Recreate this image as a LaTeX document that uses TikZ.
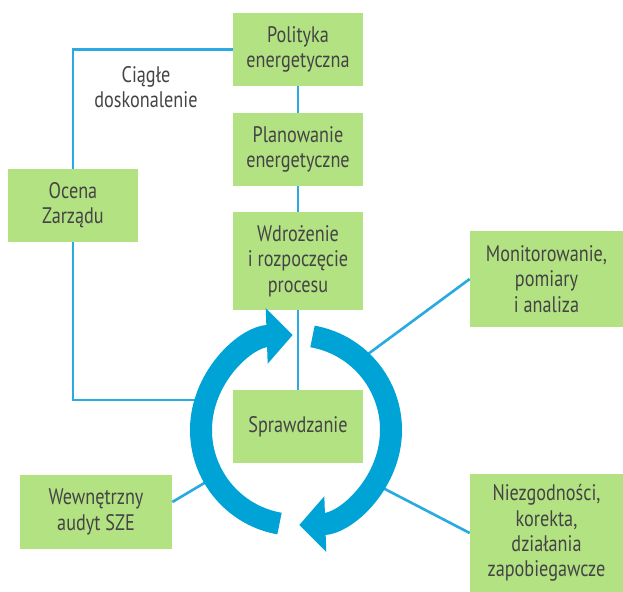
\documentclass[tikz,border=0pt]{standalone}
\usepackage{fontspec}
\setmainfont[FakeStretch=0.81]{PT Sans}
\usetikzlibrary{arrows.meta,calc}

\definecolor{boxgreen}{HTML}{B3E283}
\definecolor{linkblue}{HTML}{29ABE2}
\definecolor{ringblue}{HTML}{00A3D6}
\definecolor{textgray}{HTML}{444444}

\tikzset{
  stage/.style={fill=boxgreen, text=textgray, align=center, inner sep=0pt,
    minimum width=2.6cm, minimum height=1.46cm,
    font=\fontsize{12.8}{14.4}\selectfont},
  link/.style={linkblue, line width=1.5pt},
  ring/.style={ringblue, line width=0.44cm, -{Triangle[length=0.52cm, width=1.08cm]}}
}

\begin{document}
\begin{tikzpicture}[x=0.02cm, y=0.02cm]
        \useasboundingbox (0,0) rectangle (623,-592);

        \node[stage] (polityka) at (298,-49.5) {Polityka\\energetyczna};
        \node[stage] (planowanie) at (298,-149.5) {Planowanie\\energetyczne};
        \node[stage, minimum height=1.96cm] (wdrozenie) at (298,-261) {Wdrożenie\\i rozpoczęcie\\procesu};
        \node[stage] (sprawdzanie) at (298,-426.5) {Sprawdzanie};
        \node[stage] (ocena) at (73,-205.5) {Ocena\\Zarządu};
        \node[stage, minimum width=3.06cm, minimum height=1.92cm] (monitor) at (546.5,-279) {Monitorowanie,\\pomiary\\i analiza};
        \node[stage, minimum width=3.06cm, minimum height=2.36cm] (niezgod) at (546.5,-533) {Niezgodności,\\korekta,\\działania\\zapobiegawcze};
        \node[stage, minimum width=3.04cm, minimum height=1.48cm] (audyt) at (96,-512) {Wewnętrzny\\audyt SZE};
        \node[text=textgray, align=center, font=\fontsize{12.8}{14.4}\selectfont] (ciagle) at (146,-87) {Ciągłe\\doskonalenie};

        % ends on the ring
        \coordinate (ringc) at (296,-430);
        \coordinate (loopend) at (200,-400);
        \coordinate (monend) at ($(ringc)+(47:100)$);
        \coordinate (niezend) at ($(ringc)+(-34:100)$);
        \coordinate (audend) at ($(ringc)+(210:100)$);

        \draw[link] (polityka) -- (planowanie);
        \draw[link] (planowanie) -- (wdrozenie);
        \draw[link] (wdrozenie) -- (sprawdzanie);
        \draw[link] (polityka.west) -| (ocena.north);
        \draw[link] (ocena.south) |- (loopend);
        \draw[link] (monitor.west) -- (monend);
        \draw[link] (niezgod.west) -- (niezend);
        \draw[link] ([yshift=0.2cm]audyt.east) -- (audend);

        % PDCA ring
        \draw[ring] ($(ringc)+(260:95)$) arc[start angle=260, end angle=92, radius=95];
        \draw[ring] ($(ringc)+(80:95)$) arc[start angle=80, end angle=-88, radius=95];
    \end{tikzpicture}
\end{document}
